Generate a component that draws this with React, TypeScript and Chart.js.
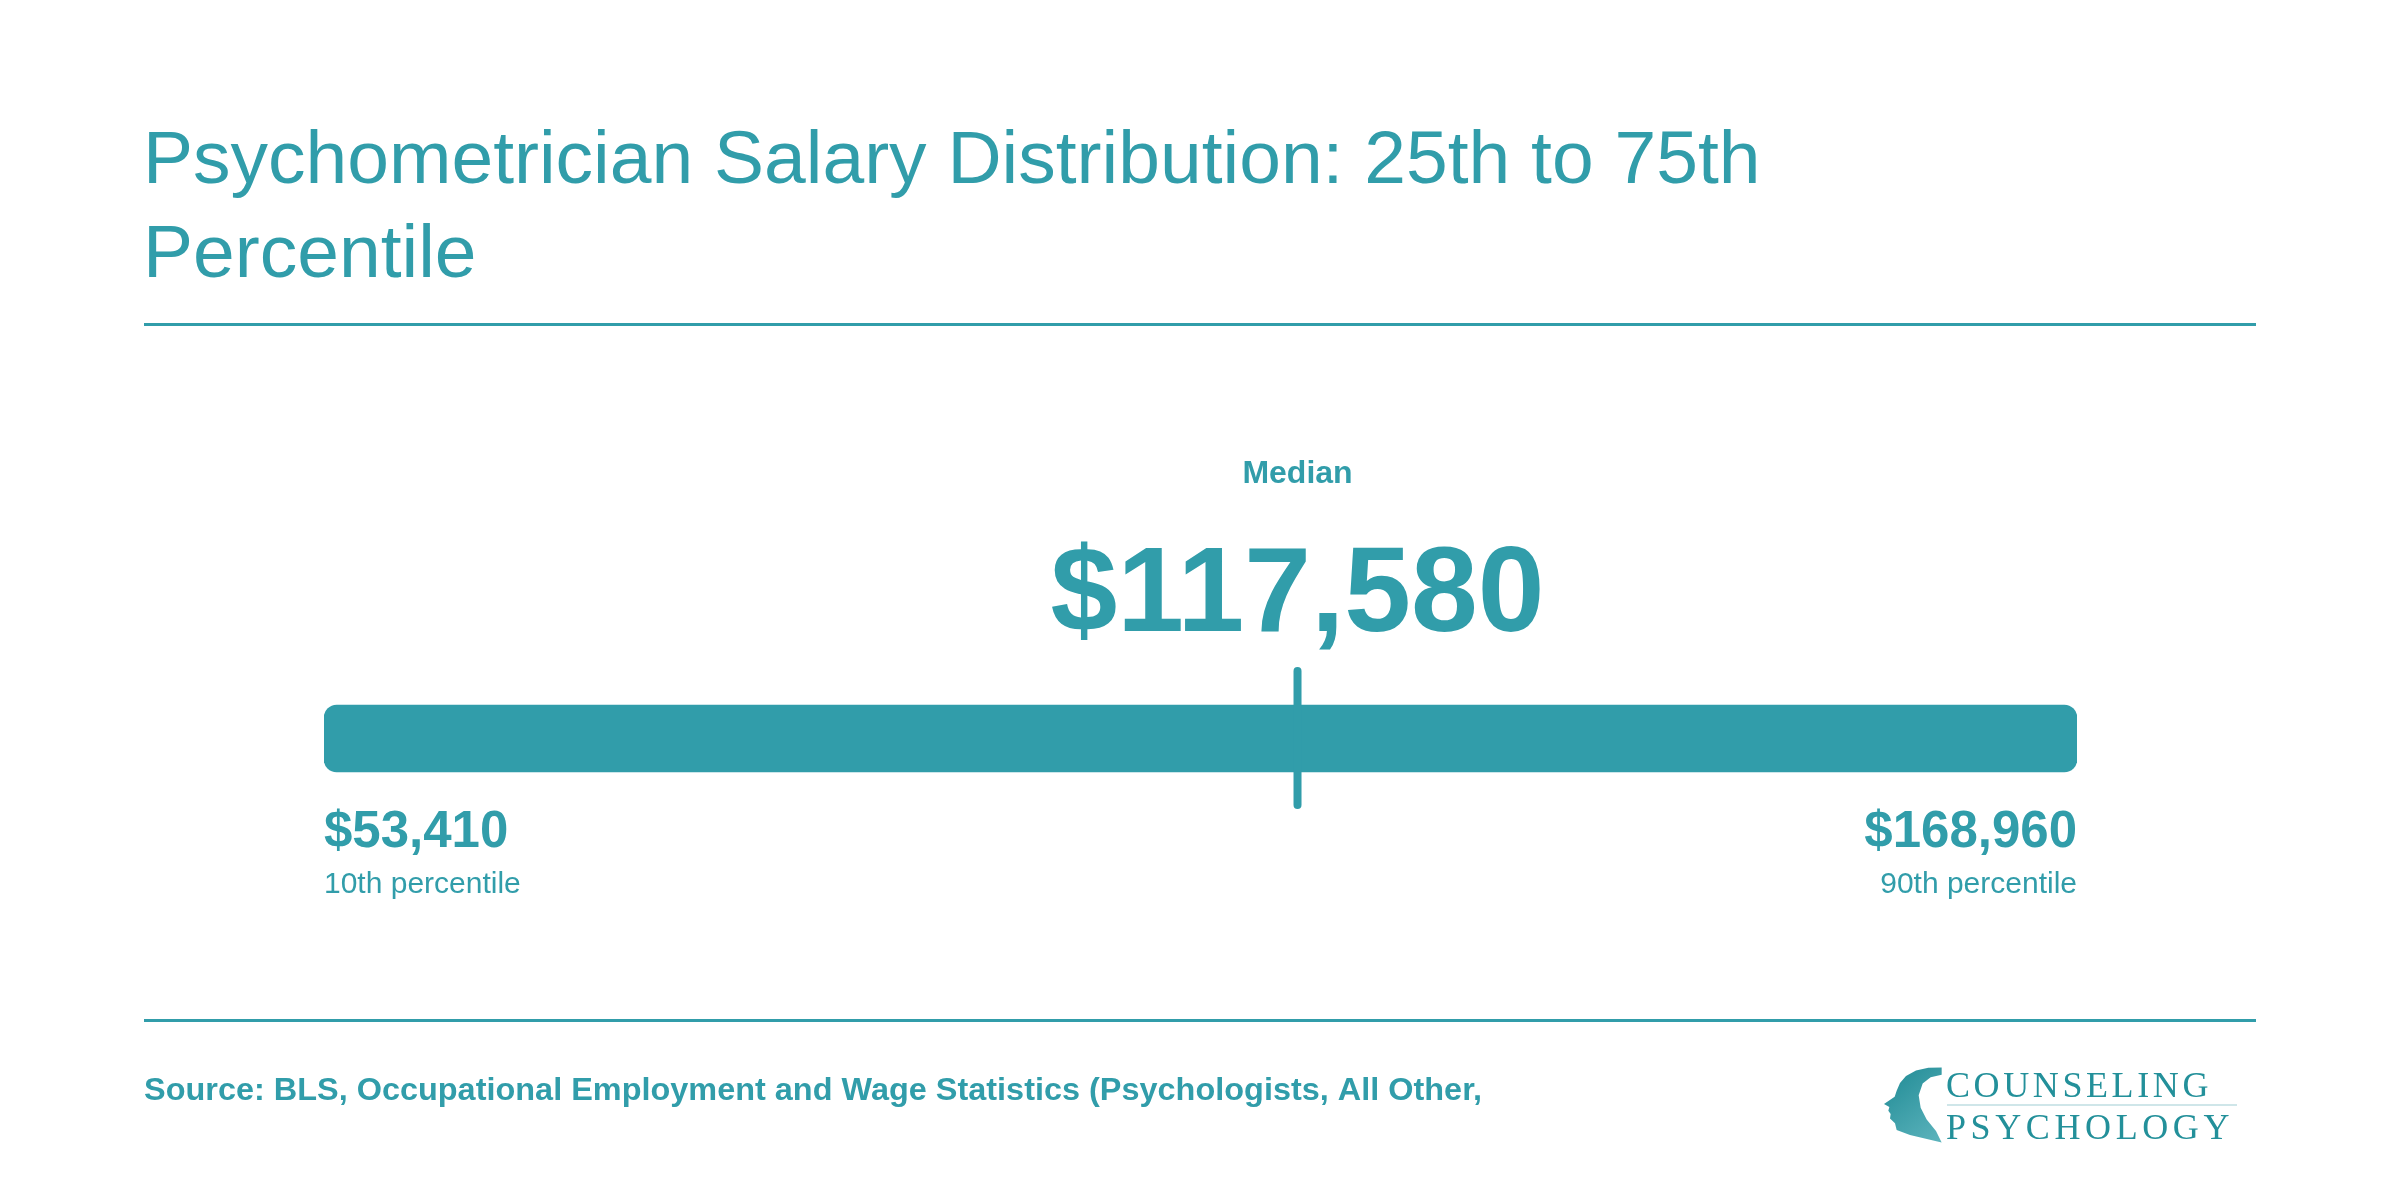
import React, { useEffect, useRef } from "react";
import { Chart, registerables } from "chart.js";

Chart.register(...registerables);

// ---- data ----
const CATEGORIES = ["Psychometrician"];
const RANGE_LOW = [53410];
const RANGE_HIGH = [168960];
const MEDIAN = [117580];
const LOW_LABEL = ["10th percentile"];
const HIGH_LABEL = ["90th percentile"];
const MEDIAN_LABEL = "Median";
const TITLE_LINES = ["Psychometrician Salary Distribution: 25th to 75th", "Percentile"];
const SOURCE_TEXT = "Source: BLS, Occupational Employment and Wage Statistics (Psychologists, All Other,";
const LOGO_LINES = ["COUNSELING", "PSYCHOLOGY"];

const TEAL = "#319DAA";
const SANS = '"Liberation Sans", Arial, Helvetica, sans-serif';
const SERIF = '"Liberation Serif", "Times New Roman", serif';

const fmt = (n: number) => "$" + n.toLocaleString("en-US");

function drawSpaced(ctx: CanvasRenderingContext2D, text: string, x: number, y: number, spacing: number) {
  let cx = x;
  for (const ch of text) {
    ctx.fillText(ch, cx, y);
    cx += ctx.measureText(ch).width + spacing;
  }
}

// head silhouette outline (logo artwork)
const HEAD_OUTER: [number, number][] = [
  [245, 60], [205, 61], [168, 70], [138, 88], [120, 110], [110, 135], [104, 155],
  [72, 178], [88, 188], [85, 200], [92, 210], [90, 225], [105, 240], [110, 262], [150, 278], [245, 302],
];
const HEAD_INNER: [number, number][] = [
  [228, 265], [200, 228], [182, 190], [176, 150], [188, 112], [212, 92], [245, 84],
];

const decorPlugin = {
  id: "decor",
  afterDatasetsDraw(chart: any) {
    const ctx: CanvasRenderingContext2D = chart.ctx;
    const xs = chart.scales.x;
    const mx = xs.getPixelForValue(MEDIAN[0]);
    ctx.save();
    ctx.strokeStyle = TEAL;
    ctx.lineWidth = 8;
    ctx.lineCap = "round";
    ctx.beginPath();
    ctx.moveTo(mx, 671);
    ctx.lineTo(mx, 805);
    ctx.stroke();
    ctx.restore();
  },
  afterDraw(chart: any) {
    const ctx: CanvasRenderingContext2D = chart.ctx;
    const xs = chart.scales.x;
    ctx.save();
    ctx.fillStyle = TEAL;
    ctx.textBaseline = "alphabetic";

    // title
    ctx.textAlign = "left";
    ctx.font = `75px ${SANS}`;
    ctx.fillText(TITLE_LINES[0], 143, 183);
    ctx.fillText(TITLE_LINES[1], 143, 277);

    // rules
    ctx.fillRect(144, 323, 2112, 3);
    ctx.fillRect(144, 1019, 2112, 3);

    // median
    const mx = xs.getPixelForValue(MEDIAN[0]);
    ctx.textAlign = "center";
    ctx.font = `bold 32px ${SANS}`;
    ctx.fillText(MEDIAN_LABEL, mx, 483);
    ctx.font = `bold 120px ${SANS}`;
    ctx.fillText(fmt(MEDIAN[0]), mx, 631);

    // low / high
    const lx = xs.getPixelForValue(RANGE_LOW[0]);
    const hx = xs.getPixelForValue(RANGE_HIGH[0]);
    ctx.textAlign = "left";
    ctx.font = `bold 51px ${SANS}`;
    ctx.fillText(fmt(RANGE_LOW[0]), lx, 847);
    ctx.font = `30px ${SANS}`;
    ctx.fillText(LOW_LABEL[0], lx, 893);
    ctx.textAlign = "right";
    ctx.font = `bold 51px ${SANS}`;
    ctx.fillText(fmt(RANGE_HIGH[0]), hx, 847);
    ctx.font = `30px ${SANS}`;
    ctx.fillText(HIGH_LABEL[0], hx, 893);

    // source
    ctx.textAlign = "left";
    ctx.font = `bold 31px ${SANS}`;
    const natural = ctx.measureText(SOURCE_TEXT).width;
    const target = 1338;
    ctx.save();
    ctx.translate(144, 1100);
    ctx.scale(target / natural, 1);
    ctx.fillText(SOURCE_TEXT, 0, 0);
    ctx.restore();

    // logo: head silhouette
    const mapX = (zx: number) => 1860 + zx / 3;
    const mapY = (zy: number) => 1068 + (zy - 62) * 0.31;
    const g = ctx.createLinearGradient(1883, 1068, 1942, 1142);
    g.addColorStop(0, "#1f8a94");
    g.addColorStop(1, "#5db4bd");
    ctx.fillStyle = g;
    ctx.beginPath();
    HEAD_OUTER.forEach(([zx, zy], i) => {
      if (i === 0) ctx.moveTo(mapX(zx), mapY(zy));
      else ctx.lineTo(mapX(zx), mapY(zy));
    });
    HEAD_INNER.forEach(([zx, zy]) => ctx.lineTo(mapX(zx), mapY(zy)));
    ctx.closePath();
    ctx.fill();

    // logo text
    ctx.fillStyle = "#23909a";
    ctx.textAlign = "left";
    ctx.font = `36px ${SERIF}`;
    drawSpaced(ctx, LOGO_LINES[0], 1946, 1097, 3.6);
    drawSpaced(ctx, LOGO_LINES[1], 1946, 1139, 4.6);
    ctx.fillStyle = "#cfe6e9";
    ctx.fillRect(1947, 1104, 290, 2);
    ctx.restore();
  },
};

export default function App() {
  const ref = useRef<HTMLCanvasElement | null>(null);
  useEffect(() => {
    if (!ref.current) return;
    const chart = new Chart(ref.current, {
      type: "bar",
      data: {
        labels: CATEGORIES,
        datasets: [
          {
            label: "10th–90th percentile",
            data: CATEGORIES.map((_, i) => [RANGE_LOW[i], RANGE_HIGH[i]]) as any,
            backgroundColor: TEAL,
            borderWidth: 0,
            borderRadius: 13,
            borderSkipped: false,
            barThickness: 67,
          },
        ],
      },
      options: {
        indexAxis: "y",
        responsive: false,
        devicePixelRatio: 1,
        animation: false,
        layout: { padding: { left: 324, right: 323, top: 700, bottom: 423 } },
        plugins: { legend: { display: false }, tooltip: { enabled: false }, title: { display: false } },
        scales: {
          x: { display: false, min: RANGE_LOW[0], max: RANGE_HIGH[0] },
          y: { display: false },
        },
      },
      plugins: [decorPlugin],
    });
    return () => chart.destroy();
  }, []);
  return (
    <div style={{ position: "fixed", left: 0, top: 0, width: 2400, height: 1200, background: "#fff" }}>
      <canvas ref={ref} width={2400} height={1200} style={{ width: 2400, height: 1200, display: "block" }} />
    </div>
  );
}
